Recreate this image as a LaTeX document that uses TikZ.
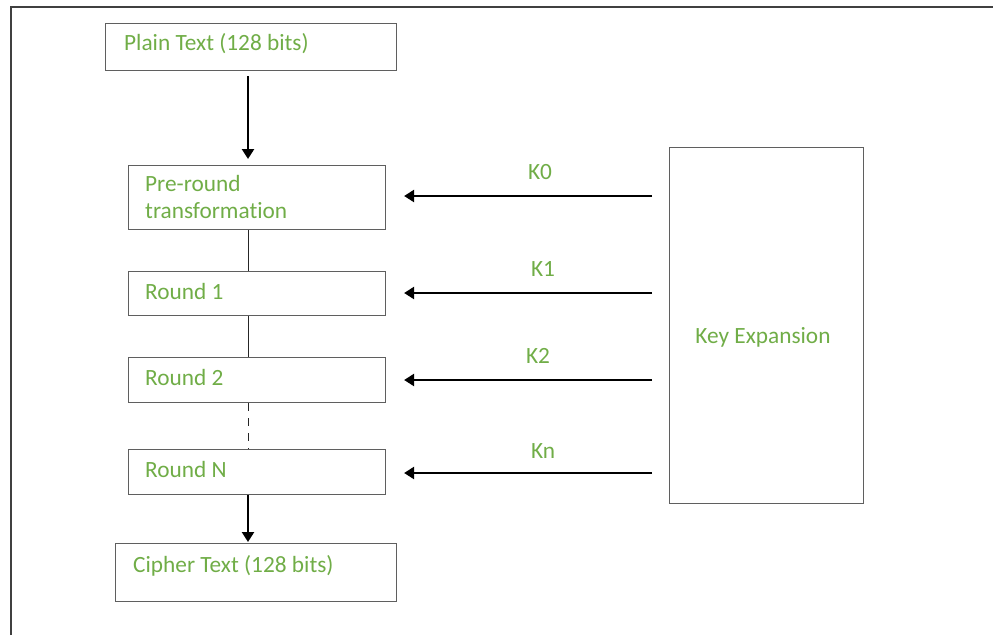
\documentclass[tikz,border=0pt]{standalone}
\usepackage{fontspec}
\setmainfont[Ligatures=NoCommon]{Carlito}
\usetikzlibrary{arrows.meta}
\definecolor{labelgreen}{RGB}{112,173,71}
\definecolor{boxgray}{RGB}{95,95,95}
\begin{document}
\begin{tikzpicture}[x=1pt,y=-1pt,
  box/.style={draw=boxgray,line width=1.1pt,rectangle,inner sep=0pt,anchor=north west},
  lbl/.style={text=labelgreen,font=\fontsize{23.3}{27}\selectfont,inner sep=0pt},
  feed/.style={line width=2.4pt,-{Triangle[width=12pt,length=10pt]}},
  link/.style={draw=black!85,line width=1pt}]
\useasboundingbox (0,0) rectangle (993,635);

% page frame (top and left rules)
\coordinate (frameTL) at (11,7);
\coordinate (frameTR) at (993,7);
\coordinate (frameBL) at (11,635);
\draw[line width=1.4pt,black!75] (frameBL) -- (frameTL) -- (frameTR);

% cipher pipeline boxes
\node[box,minimum width=291pt,minimum height=47pt] (plain) at (105,23) {};
\node[box,minimum width=257pt,minimum height=64pt] (pre)   at (128,165) {};
\node[box,minimum width=257pt,minimum height=44pt] (r1)    at (128,271) {};
\node[box,minimum width=257pt,minimum height=45pt] (r2)    at (128,357) {};
\node[box,minimum width=257pt,minimum height=45pt] (rn)    at (128,449) {};
\node[box,minimum width=281pt,minimum height=58pt] (ciph)  at (115,543) {};
\node[box,minimum width=194pt,minimum height=356pt] (keyx) at (669,147) {};

% box captions
\node[lbl,anchor=base west] (plaintxt) at (124,50) {Plain Text (128 bits)};
\node[lbl,anchor=base west] (pretxt1) at (145,191) {Pre-round};
\node[lbl,anchor=base west] (pretxt2) at (145,218) {transformation};
\node[lbl,anchor=base west] (r1txt) at (145,299) {Round 1};
\node[lbl,anchor=base west] (r2txt) at (145,385) {Round 2};
\node[lbl,anchor=base west] (rntxt) at (145,477) {Round N};
\node[lbl,anchor=base west] (ciphtxt) at (133,572) {Cipher Text (128 bits)};
\node[lbl,anchor=base] (keyxtxt) at (763,343) {Key Expansion};

% round key labels
\node[lbl,anchor=base] (k0txt) at (540,179) {K0};
\node[lbl,anchor=base] (k1txt) at (543,276) {K1};
\node[lbl,anchor=base] (k2txt) at (538,363) {K2};
\node[lbl,anchor=base] (kntxt) at (543,458) {Kn};

% vertical flow
\coordinate (spine) at (248,0);
\draw[feed,shorten <=5pt,shorten >=6pt] (plain.south -| spine) -- (pre.north -| spine);
\draw[link] (pre.south -| spine) -- (r1.north -| spine);
\draw[link] (r1.south -| spine) -- (r2.north -| spine);
\draw[link,dash pattern=on 8pt off 7pt] (r2.south -| spine) -- (rn.north -| spine);
\draw[feed,shorten >=1pt] (rn.south -| spine) -- (ciph.north -| spine);

% round keys fed in from the key schedule
\coordinate (k0) at (652,196);
\coordinate (k1) at (652,293);
\coordinate (k2) at (652,380);
\coordinate (kn) at (652,473);
\draw[feed,shorten >=18pt] (k0) -- (k0 -| pre.east);
\draw[feed,shorten >=18pt] (k1) -- (k1 -| r1.east);
\draw[feed,shorten >=18pt] (k2) -- (k2 -| r2.east);
\draw[feed,shorten >=18pt] (kn) -- (kn -| rn.east);
\end{tikzpicture}
\end{document}
